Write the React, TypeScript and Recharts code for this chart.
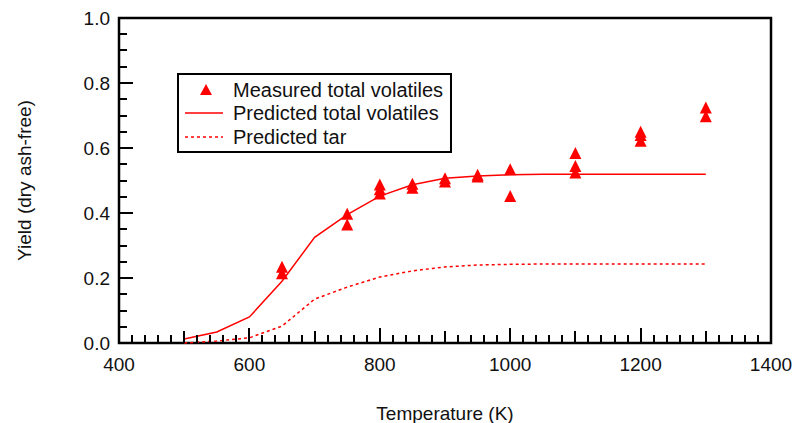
import React from 'react';
import {
  ComposedChart,
  Line,
  Scatter,
  XAxis,
  YAxis,
  Legend,
  ReferenceArea,
} from 'recharts';

// measured total volatiles (several repeats per temperature)
const measuredTemp = [650, 650, 750, 750, 800, 800, 800, 850, 850, 900, 900, 950, 950, 1000, 1000, 1100, 1100, 1100, 1200, 1200, 1200, 1300, 1300];
const measuredYield = [0.235, 0.215, 0.398, 0.365, 0.488, 0.473, 0.46, 0.49, 0.478, 0.507, 0.497, 0.518, 0.512, 0.535, 0.452, 0.585, 0.545, 0.525, 0.65, 0.64, 0.622, 0.725, 0.698];

// model curves
const modelTemp = [500, 550, 600, 650, 700, 750, 800, 850, 900, 950, 1000, 1050, 1100, 1150, 1200, 1250, 1300];
const predictedTotal = [0.012, 0.034, 0.08, 0.19, 0.325, 0.395, 0.452, 0.487, 0.507, 0.514, 0.518, 0.519, 0.519, 0.519, 0.519, 0.519, 0.519];
const predictedTar = [0.0, 0.006, 0.016, 0.052, 0.135, 0.172, 0.203, 0.222, 0.234, 0.24, 0.242, 0.243, 0.243, 0.243, 0.243, 0.243, 0.243];

const xLabels = [400, 600, 800, 1000, 1200, 1400];
const yLabels = [0, 0.2, 0.4, 0.6, 0.8, 1.0];

const RED = '#ff0000';
const INK = '#000';
const FONT = '"Liberation Sans", Arial, sans-serif';

const measured = measuredTemp.map((t, i) => ({ t, y: measuredYield[i] }));
const totalLine = modelTemp.map((t, i) => ({ t, y: predictedTotal[i] }));
const tarLine = modelTemp.map((t, i) => ({ t, y: predictedTar[i] }));

// minor ticks every 20 K and every 0.05
const xTicks: number[] = [];
for (let v = 400; v <= 1400; v += 20) xTicks.push(v);
const yTicks: number[] = [];
for (let i = 0; i <= 20; i++) yTicks.push(Math.round(i * 5) / 100);

function xLen(v: number) {
  if (xLabels.includes(v)) return 15;
  if (v % 100 === 0) return 12;
  return 8;
}
function isYMajor(v: number) {
  return yLabels.some((l) => Math.abs(l - v) < 1e-6);
}
function yLen(v: number) {
  return isYMajor(v) ? 14 : 8;
}

const px = (v: number) => Math.round(v);

const BottomTick = ({ x, y, payload }: any) => {
  const v = payload.value;
  return (
    <g>
      <line x1={px(x)} x2={px(x)} y1={y} y2={y - xLen(v)} stroke={INK} strokeWidth={2} />
      {xLabels.includes(v) && (
        <text x={x} y={y + 15} dy="0.71em" textAnchor="middle" fontSize={19} fontFamily={FONT} fill="#111">
          {v}
        </text>
      )}
    </g>
  );
};

const TopTick = ({ x, y, payload }: any) => (
  <line x1={px(x)} x2={px(x)} y1={y} y2={y + xLen(payload.value)} stroke={INK} strokeWidth={2} />
);

const LeftTick = ({ x, y, payload }: any) => {
  const v = payload.value;
  return (
    <g>
      <line x1={x} x2={x + yLen(v)} y1={px(y)} y2={px(y)} stroke={INK} strokeWidth={2} />
      {isYMajor(v) && (
        <text x={x - 9} y={y} dy="0.36em" textAnchor="end" fontSize={19} fontFamily={FONT} fill="#111">
          {v.toFixed(1)}
        </text>
      )}
    </g>
  );
};

const RightTick = ({ x, y, payload }: any) => (
  <line x1={x} x2={x - yLen(payload.value)} y1={px(y)} y2={px(y)} stroke={INK} strokeWidth={2} />
);

const Triangle = ({ cx, cy }: any) => (
  <polygon points={`${cx},${cy - 6} ${cx + 6},${cy + 6} ${cx - 6},${cy + 6}`} fill={RED} />
);

const XTitle = ({ viewBox }: any) => (
  <text
    x={viewBox.x + viewBox.width / 2}
    y={viewBox.y + 77}
    textAnchor="middle"
    fontSize={19}
    fontFamily={FONT}
    fill="#111"
  >
    Temperature (K)
  </text>
);

const YTitle = ({ viewBox }: any) => {
  const cx = 24;
  const cy = viewBox.y + viewBox.height / 2;
  return (
    <text
      x={cx}
      y={cy}
      transform={`rotate(-90, ${cx}, ${cy})`}
      textAnchor="middle"
      dominantBaseline="central"
      fontSize={19}
      fontFamily={FONT}
      fill="#111"
    >
      Yield (dry ash-free)
    </text>
  );
};

const legendRows = [
  { label: 'Measured total volatiles', kind: 'marker' },
  { label: 'Predicted total volatiles', kind: 'solid' },
  { label: 'Predicted tar', kind: 'dotted' },
];

const LegendBox = () => (
  <div
    style={{
      width: 275,
      height: 80,
      boxSizing: 'border-box',
      border: '2px solid #000',
      background: '#fff',
      paddingTop: 3,
      fontFamily: FONT,
      fontSize: 20,
      color: '#111',
    }}
  >
    {legendRows.map((r) => (
      <div key={r.label} style={{ display: 'flex', alignItems: 'center', height: 23.5 }}>
        <svg width={54} height={20} style={{ flex: 'none' }}>
          {r.kind === 'marker' && <polygon points="27,4 33,15 21,15" fill={RED} />}
          {r.kind === 'solid' && <line x1={6} x2={44} y1={10} y2={10} stroke={RED} strokeWidth={1.5} />}
          {r.kind === 'dotted' && (
            <line x1={6} x2={44} y1={10} y2={10} stroke={RED} strokeWidth={1.5} strokeDasharray="3 3" />
          )}
        </svg>
        <span style={{ whiteSpace: 'nowrap', lineHeight: '20px' }}>{r.label}</span>
      </div>
    ))}
  </div>
);

export default function App() {
  return (
    <div style={{ position: 'absolute', left: 0, top: 0, background: '#fff' }}>
      <ComposedChart width={795} height={423} margin={{ top: 17, right: 23, bottom: 79, left: 118 }}>
        <XAxis
          dataKey="t"
          type="number"
          domain={[400, 1400]}
          ticks={xTicks}
          interval={0}
          height={1}
          tickSize={0}
          tickMargin={0}
          tick={<BottomTick />}
          axisLine={false}
          label={<XTitle />}
        />
        <XAxis
          xAxisId="top"
          orientation="top"
          dataKey="t"
          type="number"
          domain={[400, 1400]}
          ticks={xTicks}
          interval={0}
          height={1}
          tickSize={0}
          tickMargin={0}
          tick={<TopTick />}
          axisLine={false}
        />
        <YAxis
          type="number"
          domain={[0, 1]}
          ticks={yTicks}
          interval={0}
          width={1}
          tickSize={0}
          tickMargin={0}
          tick={<LeftTick />}
          axisLine={false}
          label={<YTitle />}
        />
        <YAxis
          yAxisId="right"
          orientation="right"
          type="number"
          domain={[0, 1]}
          ticks={yTicks}
          interval={0}
          width={1}
          tickSize={0}
          tickMargin={0}
          tick={<RightTick />}
          axisLine={false}
        />
        <Line
          data={tarLine}
          dataKey="y"
          type="linear"
          stroke={RED}
          strokeWidth={1.5}
          strokeDasharray="3 3"
          dot={false}
          isAnimationActive={false}
        />
        <Line
          data={totalLine}
          dataKey="y"
          type="linear"
          stroke={RED}
          strokeWidth={1.5}
          dot={false}
          isAnimationActive={false}
        />
        <Scatter data={measured} dataKey="y" shape={<Triangle />} isAnimationActive={false} />
        {/* plot frame */}
        <ReferenceArea
          x1={400}
          x2={1400}
          y1={0}
          y2={1}
          fill="none"
          fillOpacity={0}
          stroke={INK}
          strokeWidth={2.5}
          strokeOpacity={1}
          ifOverflow="visible"
        />
        <Legend
          layout="vertical"
          align="center"
          verticalAlign="middle"
          content={<LegendBox />}
          wrapperStyle={{ left: 177, top: 73, width: 275, height: 80 }}
        />
      </ComposedChart>
    </div>
  );
}
